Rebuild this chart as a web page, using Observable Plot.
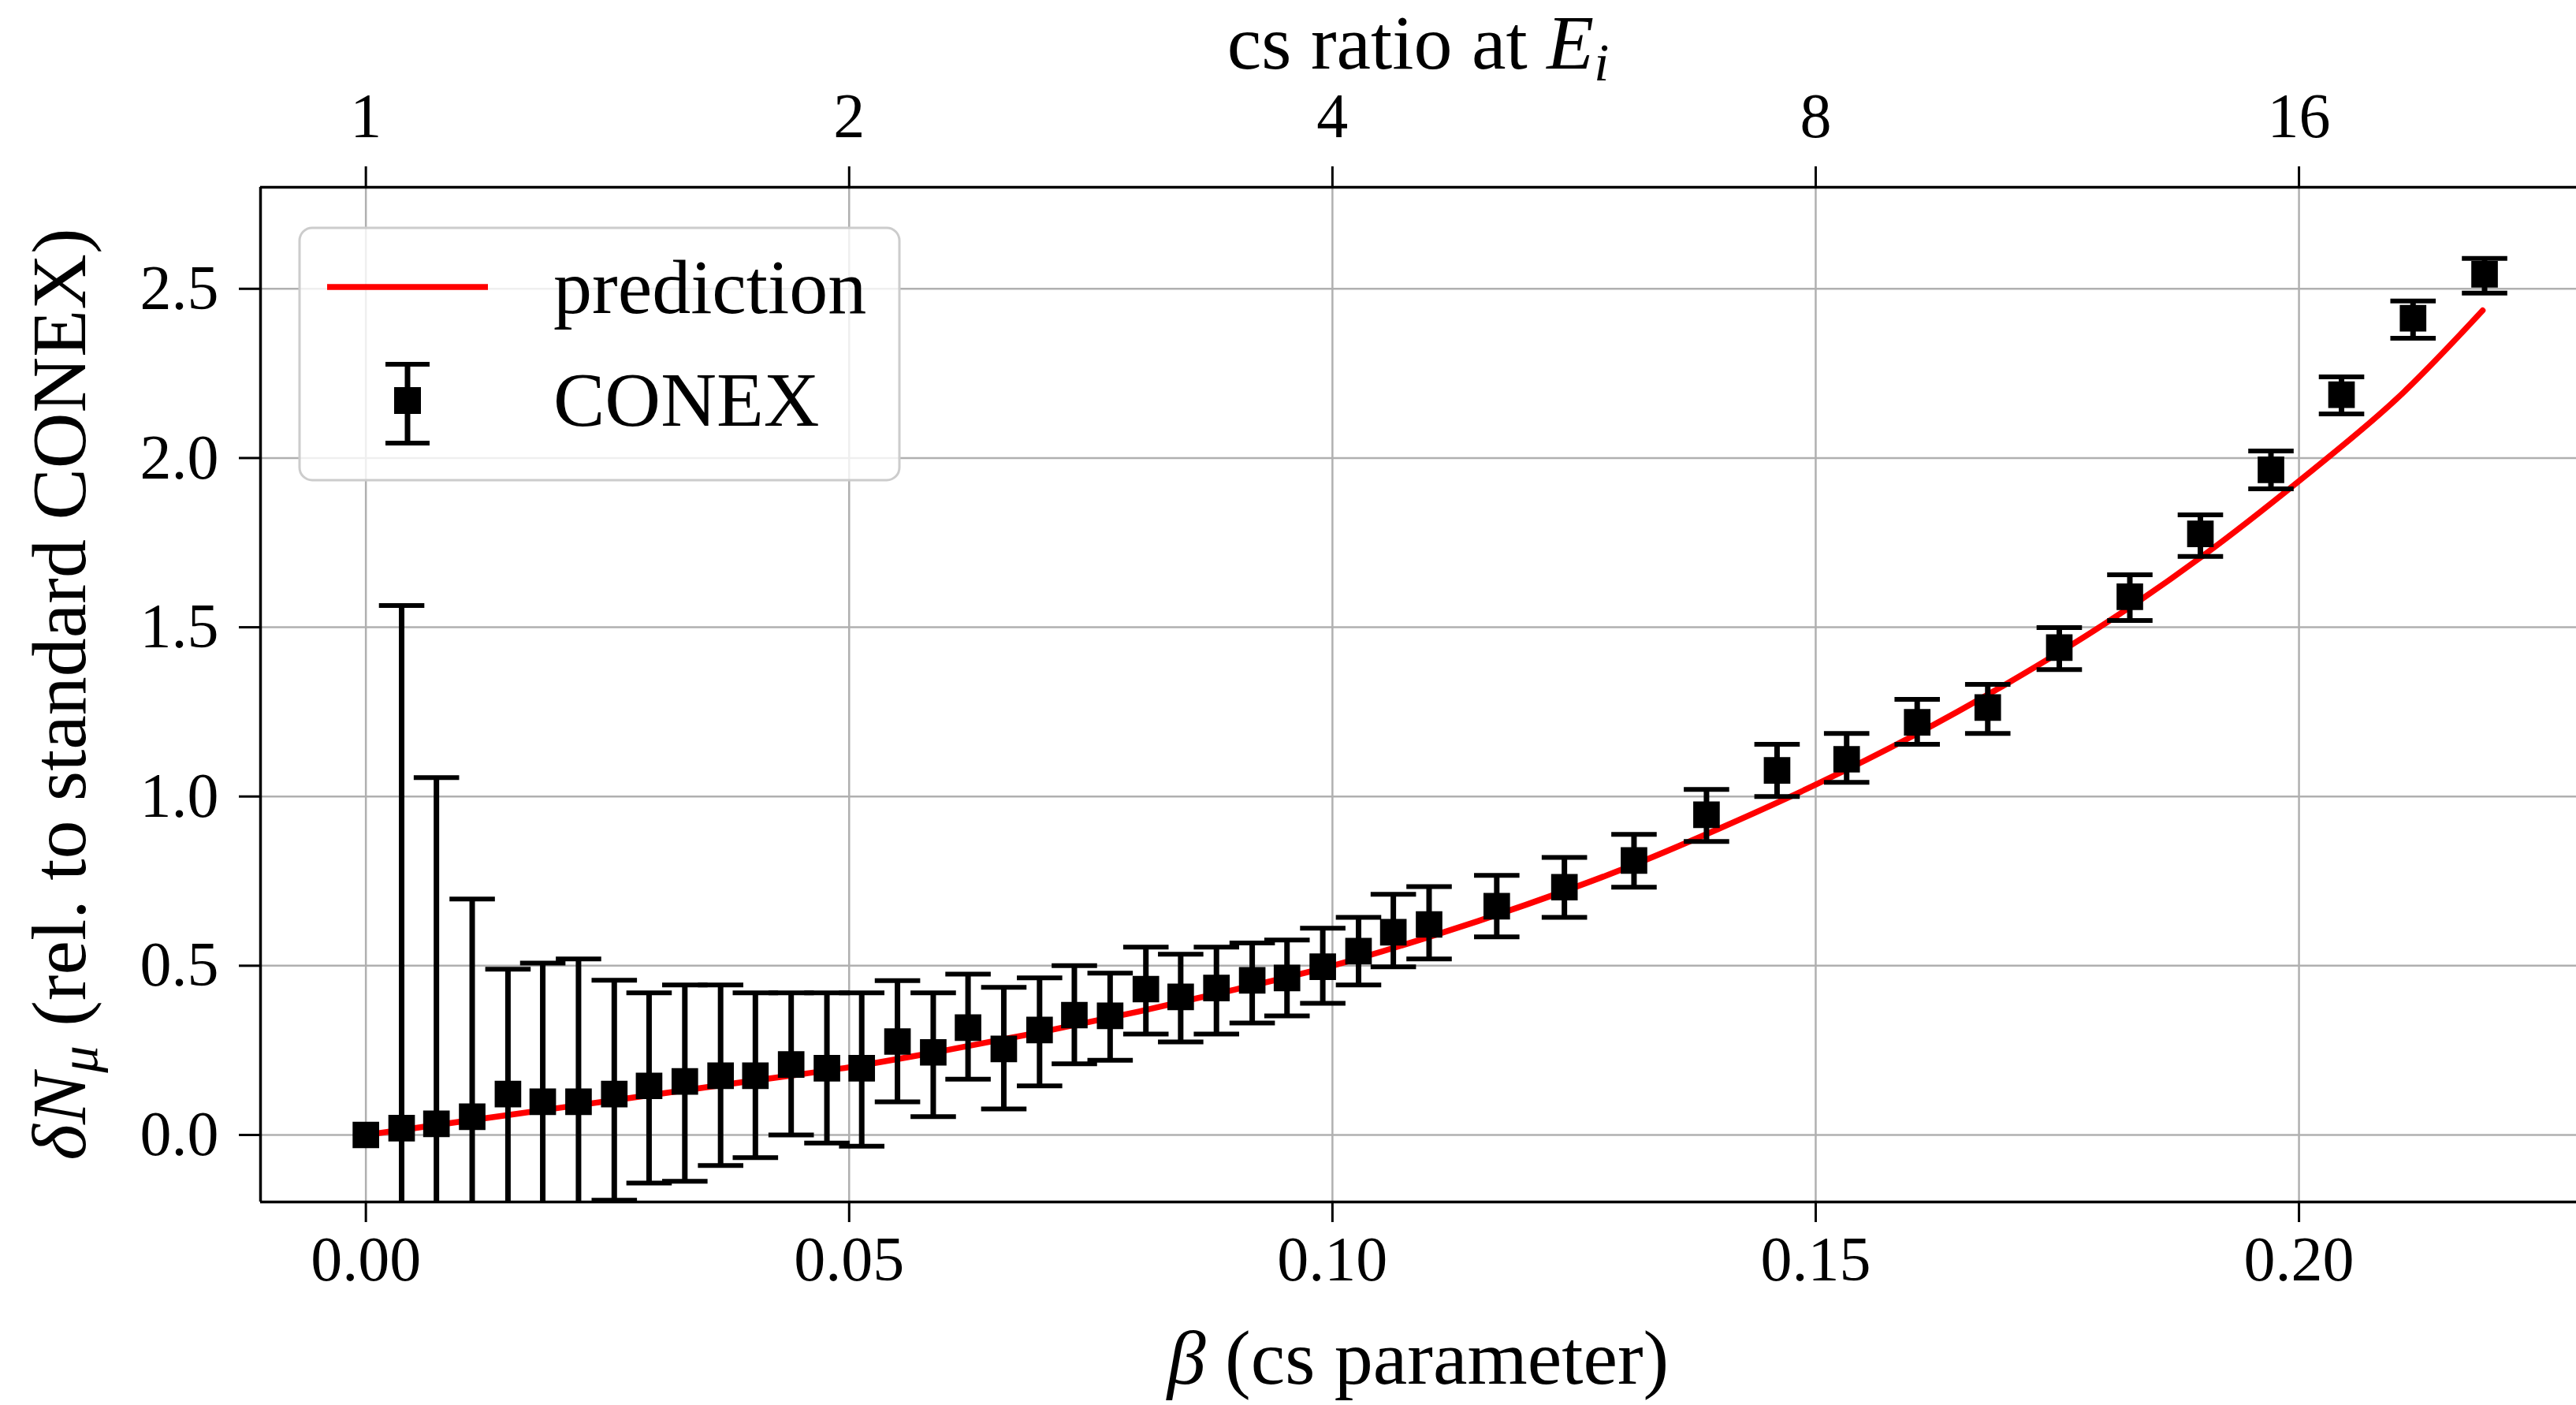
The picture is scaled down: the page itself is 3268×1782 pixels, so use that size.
<!DOCTYPE html>
<html>
<head>
<meta charset="utf-8">
<script src="https://cdn.jsdelivr.net/npm/d3@7"></script>
<script src="https://cdn.jsdelivr.net/npm/@observablehq/plot@0.6"></script>
<style>
  html, body { margin: 0; padding: 0; background: #fff; overflow: hidden; }
  #chart svg { display: block; }
</style>
</head>
<body>
<div id="chart"></div>
<script>
// ---- data ----
const beta = [
  0.0000, 0.0037, 0.0073, 0.0110, 0.0147, 0.0183, 0.0220, 0.0257, 0.0293, 0.0330,
  0.0367, 0.0403, 0.0440, 0.0477, 0.0513, 0.0550, 0.0587, 0.0623, 0.0660, 0.0697,
  0.0733, 0.0770, 0.0807, 0.0843, 0.0880, 0.0917, 0.0953, 0.0990, 0.1027, 0.1063,
  0.1100, 0.1170, 0.1240, 0.1312, 0.1387, 0.1460, 0.1532, 0.1605, 0.1678, 0.1752,
  0.1825, 0.1898, 0.1971, 0.2044, 0.2118, 0.2192
];
const deltaN = [
  0.000, 0.020, 0.033, 0.054, 0.121, 0.098, 0.098, 0.121, 0.145, 0.158,
  0.175, 0.175, 0.208, 0.197, 0.197, 0.276, 0.244, 0.317, 0.254, 0.310,
  0.354, 0.352, 0.431, 0.408, 0.434, 0.457, 0.464, 0.497, 0.543, 0.599,
  0.622, 0.676, 0.732, 0.811, 0.946, 1.077, 1.110, 1.219, 1.263, 1.440,
  1.590, 1.776, 1.965, 2.187, 2.413, 2.543
];
const errLow = [
  null, -1.52, -0.99, -0.59, -0.25, -0.31, -0.32, -0.193, -0.142, -0.137,
  -0.090, -0.067, 0.000, -0.024, -0.033, 0.098, 0.054, 0.165, 0.077, 0.145,
  0.210, 0.221, 0.298, 0.275, 0.298, 0.331, 0.352, 0.389, 0.443, 0.497,
  0.520, 0.585, 0.643, 0.732, 0.867, 1.000, 1.042, 1.154, 1.186, 1.375,
  1.520, 1.709, 1.909, 2.130, 2.354, 2.487
];
const errHigh = [
  null, 1.564, 1.056, 0.697, 0.490, 0.508, 0.520, 0.457, 0.420, 0.443,
  0.443, 0.420, 0.420, 0.420, 0.420, 0.456, 0.420, 0.475, 0.436, 0.464,
  0.500, 0.478, 0.555, 0.534, 0.555, 0.567, 0.576, 0.611, 0.643, 0.711,
  0.734, 0.767, 0.820, 0.888, 1.021, 1.154, 1.186, 1.287, 1.331, 1.499,
  1.655, 1.832, 2.021, 2.240, 2.464, 2.590
];
const predBeta = [
  0.00, 0.01, 0.02, 0.03, 0.04, 0.05, 0.06, 0.07, 0.08, 0.09, 0.10, 0.11,
  0.12, 0.13, 0.14, 0.15, 0.16, 0.17, 0.18, 0.19, 0.20, 0.21, 0.219
];
const predDeltaN = [
  0.000, 0.040, 0.080, 0.120, 0.160, 0.200, 0.250, 0.305, 0.365, 0.430, 0.500, 0.585,
  0.680, 0.785, 0.905, 1.035, 1.178, 1.337, 1.512, 1.710, 1.932, 2.172, 2.436
];
const xTicks = [0, 0.05, 0.10, 0.15, 0.20];
const yTicks = [0, 0.5, 1.0, 1.5, 2.0, 2.5];
const ratioTickBeta = [0, 0.05, 0.10, 0.15, 0.20];
const ratioTickLabels = ["1", "2", "4", "8", "16"];
const xDomain = [-0.0109, 0.2287];
const yDomain = [-0.198, 2.80];

// ---- tables for the library ----
const points = beta.map((b, i) => ({beta: b, dN: deltaN[i], lo: errLow[i], hi: errHigh[i]}));
const bars = points.filter(d => d.lo != null);
const pred = predBeta.map((b, i) => ({beta: b, dN: predDeltaN[i]}));
const ratioLabel = new Map(ratioTickBeta.map((b, i) => [b, ratioTickLabels[i]]));

// horizontal cap symbol for error bars
const capSymbol = {
  draw(context, size) {
    const w = Math.sqrt(size);
    context.moveTo(-w / 2, 0);
    context.lineTo(w / 2, 0);
  }
};

const FONT = "'Liberation Serif', 'Times New Roman', serif";
const gridStyle = {stroke: "#b0b0b0", strokeOpacity: 1, strokeWidth: 2.5};

const chart = Plot.plot({
  width: 3268,
  height: 1782,
  marginTop: 237,
  marginBottom: 258,
  marginLeft: 330,
  marginRight: 0,
  style: {fontFamily: FONT, fontSize: "80px", background: "white", color: "black"},
  x: {domain: xDomain},
  y: {domain: yDomain},
  marks: [
    Plot.gridX(xTicks, gridStyle),
    Plot.gridY(yTicks, gridStyle),
    Plot.axisX(xTicks, {anchor: "bottom", tickSize: 26, tickPadding: 17, strokeWidth: 3,
      tickFormat: d3.format(".2f"), label: null, fontSize: 80, fill: "black"}),
    Plot.axisX(ratioTickBeta, {anchor: "top", tickSize: 27, tickPadding: 37, strokeWidth: 3,
      tickFormat: d => ratioLabel.get(d), label: null, fontSize: 80, fill: "black"}),
    Plot.axisY(yTicks, {anchor: "left", tickSize: 27, tickPadding: 26, strokeWidth: 3,
      tickFormat: d3.format(".1f"), label: null, fontSize: 80, fill: "black"}),
    Plot.line(pred, {x: "beta", y: "dN", stroke: "#ff0000", strokeWidth: 7.5, curve: "catmull-rom"}),
    Plot.ruleX(bars, {x: "beta", y1: "lo", y2: "hi", stroke: "black", strokeWidth: 7, clip: true}),
    Plot.dot(bars, {x: "beta", y: "lo", symbol: capSymbol, r: 32.5, stroke: "black", strokeWidth: 6, fill: "none", clip: true}),
    Plot.dot(bars, {x: "beta", y: "hi", symbol: capSymbol, r: 32.5, stroke: "black", strokeWidth: 6, fill: "none", clip: true}),
    Plot.dot(points, {x: "beta", y: "dN", symbol: "square", r: 19, fill: "black", stroke: "none"}),
    Plot.ruleX([xDomain[0]], {stroke: "black", strokeWidth: 3.5}),
    Plot.ruleY([yDomain[0], yDomain[1]], {stroke: "black", strokeWidth: 3.5})
  ]
});

document.getElementById("chart").appendChild(chart);

// ---- axis titles and legend ----
const svg = d3.select(chart);
const cx = (330 + 3268) / 2;
const cy = (237 + 1524) / 2;

function addText(g, parts) {
  parts.forEach(p => {
    const t = g.append("tspan").text(p.t);
    if (p.i) t.attr("font-style", "italic");
    if (p.sub) t.attr("font-size", "0.7em").attr("dy", "0.22em");
    if (p.back) t.attr("dy", "-0.154em");
  });
}

const topTitle = svg.append("text")
  .attr("x", cx).attr("y", 87).attr("text-anchor", "middle")
  .attr("font-family", FONT).attr("font-size", 98).attr("fill", "black");
addText(topTitle, [{t: "cs ratio at "}, {t: "E", i: true}, {t: "i", i: true, sub: true}]);

const bottomTitle = svg.append("text")
  .attr("x", cx).attr("y", 1755).attr("text-anchor", "middle")
  .attr("font-family", FONT).attr("font-size", 98).attr("fill", "black");
addText(bottomTitle, [{t: "β", i: true}, {t: " (cs parameter)"}]);

const leftTitle = svg.append("text")
  .attr("transform", `translate(108,${cy}) rotate(-90)`).attr("text-anchor", "middle")
  .attr("font-family", FONT).attr("font-size", 98).attr("fill", "black");
addText(leftTitle, [{t: "δN", i: true}, {t: "μ", i: true, sub: true}, {t: " (rel. to standard CONEX)", back: true}]);

// legend
const lg = svg.append("g").attr("text-anchor", "start");
lg.append("rect").attr("x", 380).attr("y", 289).attr("width", 761).attr("height", 320)
  .attr("rx", 16).attr("ry", 16).attr("fill", "white").attr("fill-opacity", 0.8)
  .attr("stroke", "#cccccc").attr("stroke-width", 3);
lg.append("line").attr("x1", 415).attr("x2", 619).attr("y1", 364).attr("y2", 364)
  .attr("stroke", "#ff0000").attr("stroke-width", 7.5);
lg.append("text").attr("x", 702).attr("y", 397).attr("text-anchor", "start")
  .attr("font-family", FONT).attr("font-size", 98).attr("fill", "black").text("prediction");
lg.append("line").attr("x1", 517).attr("x2", 517).attr("y1", 462).attr("y2", 562)
  .attr("stroke", "black").attr("stroke-width", 7);
lg.append("line").attr("x1", 489).attr("x2", 545).attr("y1", 462).attr("y2", 462)
  .attr("stroke", "black").attr("stroke-width", 6);
lg.append("line").attr("x1", 489).attr("x2", 545).attr("y1", 562).attr("y2", 562)
  .attr("stroke", "black").attr("stroke-width", 6);
lg.append("rect").attr("x", 500).attr("y", 491).attr("width", 34).attr("height", 34).attr("fill", "black");
lg.append("text").attr("x", 702).attr("y", 540).attr("text-anchor", "start")
  .attr("font-family", FONT).attr("font-size", 98).attr("fill", "black").text("CONEX");
</script>
</body>
</html>
